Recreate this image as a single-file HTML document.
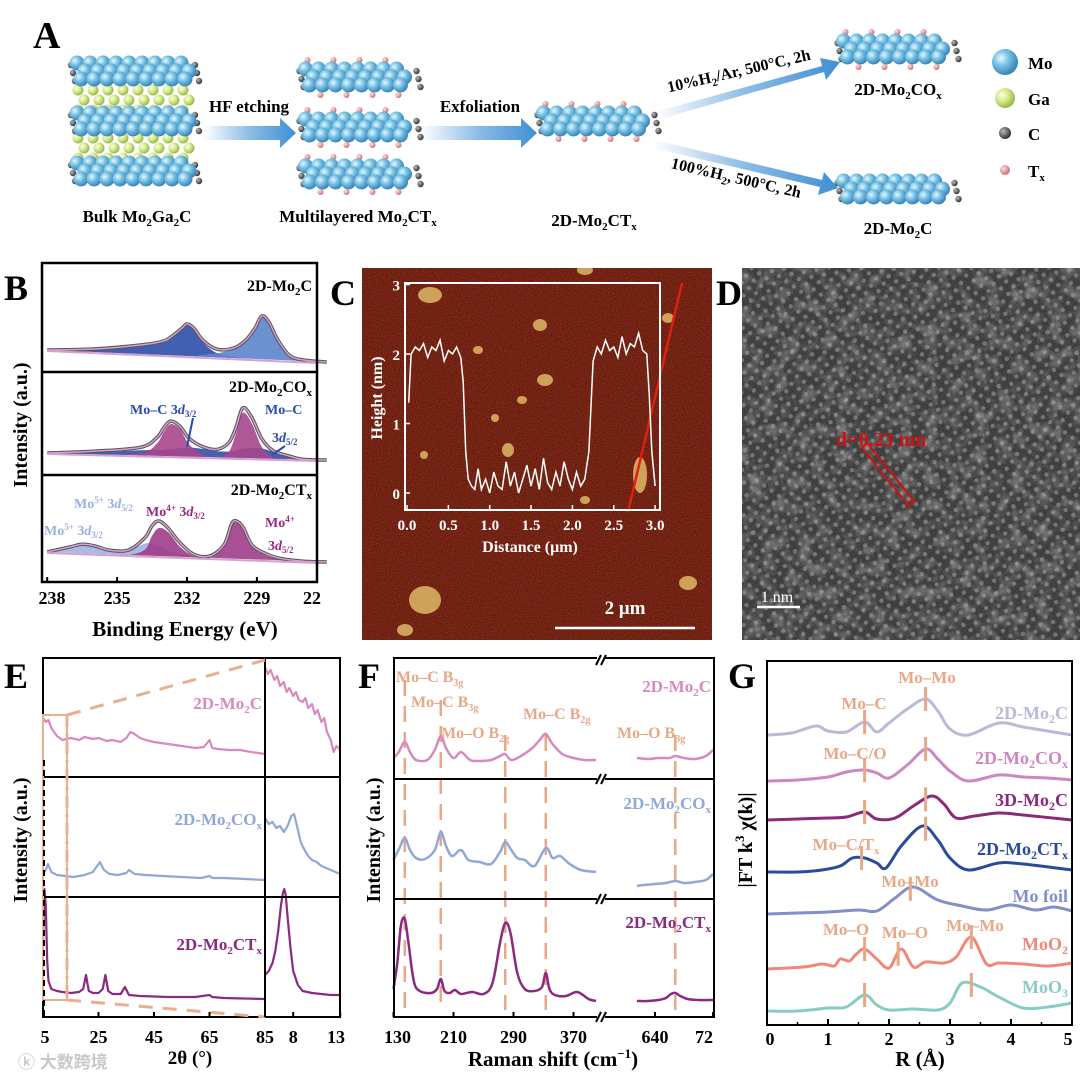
<!DOCTYPE html>
<html><head><meta charset="utf-8">
<style>
html,body{margin:0;padding:0;background:#fff;}
svg{display:block;font-family:"Liberation Serif",serif;font-weight:bold;}
</style></head>
<body>
<svg id="fig" width="1080" height="1077" viewBox="0 0 1080 1077" xmlns="http://www.w3.org/2000/svg">
<defs>
<radialGradient id="gBlue" cx="35%" cy="35%" r="65%"><stop offset="0" stop-color="#e8f8ff"/><stop offset=".45" stop-color="#79c3e6"/><stop offset="1" stop-color="#3a86b8"/></radialGradient>
<radialGradient id="gGreen" cx="35%" cy="35%" r="65%"><stop offset="0" stop-color="#fbffe0"/><stop offset=".5" stop-color="#d6ea8a"/><stop offset="1" stop-color="#9ab850"/></radialGradient>
<radialGradient id="gGray" cx="35%" cy="35%" r="65%"><stop offset="0" stop-color="#bbb"/><stop offset="1" stop-color="#333"/></radialGradient>
<radialGradient id="gPink" cx="35%" cy="35%" r="65%"><stop offset="0" stop-color="#ffe0e0"/><stop offset="1" stop-color="#d07070"/></radialGradient>
<linearGradient id="gArrow" x1="0" x2="1"><stop offset="0" stop-color="#3f8fd4" stop-opacity="0"/><stop offset=".5" stop-color="#3f8fd4" stop-opacity=".6"/><stop offset="1" stop-color="#3f8fd4"/></linearGradient>
<filter id="noiseC" x="0" y="0" width="100%" height="100%"><feTurbulence type="fractalNoise" baseFrequency="1.2" numOctaves="2" seed="3"/><feColorMatrix values="0 0 0 0 0.6  0 0 0 0 0.08  0 0 0 0 0.03  0 0 0 1.2 -0.35"/></filter>
<filter id="noiseD" x="0" y="0" width="100%" height="100%"><feTurbulence type="fractalNoise" baseFrequency="0.08" numOctaves="3" seed="5"/><feColorMatrix values="0 0 0 0 0.85  0 0 0 0 0.85  0 0 0 0 0.85  0 0 0 1.1 -0.45"/></filter>
<filter id="noiseD2" x="0" y="0" width="100%" height="100%"><feTurbulence type="fractalNoise" baseFrequency="0.7" numOctaves="1" seed="9"/><feColorMatrix values="0 0 0 0 0.1  0 0 0 0 0.1  0 0 0 0 0.1  0 0 0 1 -0.3"/></filter>
<pattern id="lattice" width="9" height="9" patternUnits="userSpaceOnUse" patternTransform="rotate(35)"><circle cx="4.5" cy="4.5" r="2.2" fill="#cfcfcf" opacity=".45"/></pattern>
<clipPath id="clipC"><rect x="362" y="268" width="350" height="372"/></clipPath>
<clipPath id="clipD"><rect x="742" y="268" width="338" height="372"/></clipPath>
</defs>

<!-- ========== Panel A ========== -->
<g id="panelA">
<text x="33" y="48" font-size="38">A</text>
<g id="structs"></g>
<polygon points="204,126 280,126 280,118 296,133 280,148 280,140 204,140" fill="url(#gArrow)"/>
<polygon points="421,126 521,126 521,118 537,133 521,148 521,140 421,140" fill="url(#gArrow)"/>
<polygon points="655,112 822,66 820,58 840,62 826,80 824,72 657,120" fill="url(#gArrow)"/>
<polygon points="655,140 822,180 824,172 838,188 818,195 820,187 653,148" fill="url(#gArrow)"/>
<text x="249" y="112" font-size="17" text-anchor="middle">HF etching</text>
<text x="480" y="112" font-size="17" text-anchor="middle">Exfoliation</text>
<text x="740" y="76" font-size="16" text-anchor="middle" transform="rotate(-13 740 76)">10%H<tspan font-size="11" dy="4">2</tspan><tspan dy="-4">/Ar, 500°C, 2h</tspan></text>
<text x="735" y="183" font-size="16" text-anchor="middle" transform="rotate(13 735 183)">100%H<tspan font-size="11" dy="4">2</tspan><tspan dy="-4">, 500°C, 2h</tspan></text>
<text x="137" y="222" font-size="17" text-anchor="middle">Bulk Mo<tspan font-size="11" dy="4">2</tspan><tspan dy="-4">Ga</tspan><tspan font-size="11" dy="4">2</tspan><tspan dy="-4">C</tspan></text>
<text x="358" y="222" font-size="17" text-anchor="middle">Multilayered Mo<tspan font-size="11" dy="4">2</tspan><tspan dy="-4">CT</tspan><tspan font-size="11" dy="4">x</tspan></text>
<text x="594" y="226" font-size="17" text-anchor="middle">2D-Mo<tspan font-size="11" dy="4">2</tspan><tspan dy="-4">CT</tspan><tspan font-size="11" dy="4">x</tspan></text>
<text x="898" y="95" font-size="17" text-anchor="middle">2D-Mo<tspan font-size="11" dy="4">2</tspan><tspan dy="-4">CO</tspan><tspan font-size="11" dy="4">x</tspan></text>
<text x="898" y="234" font-size="17" text-anchor="middle">2D-Mo<tspan font-size="11" dy="4">2</tspan><tspan dy="-4">C</tspan></text>
<g>
<circle cx="1005" cy="62" r="13" fill="url(#gBlue)"/><text x="1028" y="69" font-size="17">Mo</text>
<circle cx="1005" cy="98" r="10" fill="url(#gGreen)"/><text x="1028" y="105" font-size="17">Ga</text>
<circle cx="1005" cy="133" r="6" fill="url(#gGray)"/><text x="1028" y="140" font-size="17">C</text>
<circle cx="1005" cy="170" r="5" fill="url(#gPink)"/><text x="1028" y="177" font-size="17">T<tspan font-size="11" dy="4">x</tspan></text>
</g>
</g>

<!-- ========== Panel B ========== -->
<g id="panelB">
<text x="4" y="300" font-size="36">B</text>
<g id="bCurves"></g>
<rect x="42" y="263" width="275" height="319" fill="none" stroke="#000" stroke-width="2.5"/>
<line x1="42" y1="372" x2="317" y2="372" stroke="#000" stroke-width="2.5"/>
<line x1="42" y1="475" x2="317" y2="475" stroke="#000" stroke-width="2.5"/>
<g id="bTicks"></g>
<text x="185" y="636" font-size="21" text-anchor="middle">Binding Energy (eV)</text>
<text x="27" y="425" font-size="20" text-anchor="middle" transform="rotate(-90 27 425)">Intensity (a.u.)</text>
<text x="312" y="291" font-size="16" text-anchor="end">2D-Mo<tspan font-size="11" dy="4">2</tspan><tspan dy="-4">C</tspan></text>
<text x="312" y="392" font-size="16" text-anchor="end">2D-Mo<tspan font-size="11" dy="4">2</tspan><tspan dy="-4">CO</tspan><tspan font-size="11" dy="4">x</tspan></text>
<text x="130" y="414" font-size="14" fill="#2a4ab0">Mo–C 3<tspan font-style="italic">d</tspan><tspan font-size="9" dy="3">3/2</tspan></text>
<text x="265" y="414" font-size="14" fill="#2a4ab0">Mo–C</text>
<text x="272" y="442" font-size="14" fill="#2a4ab0">3<tspan font-style="italic">d</tspan><tspan font-size="9" dy="3">5/2</tspan></text>
<line x1="193" y1="418" x2="187" y2="447" stroke="#2a4ab0" stroke-width="2"/>
<line x1="285" y1="446" x2="272" y2="455" stroke="#2a4ab0" stroke-width="2"/>
<text x="312" y="495" font-size="16" text-anchor="end">2D-Mo<tspan font-size="11" dy="4">2</tspan><tspan dy="-4">CT</tspan><tspan font-size="11" dy="4">x</tspan></text>
<text x="146" y="516" font-size="14" fill="#9a2a80">Mo<tspan font-size="9" dy="-5">4+</tspan><tspan dy="5"> 3</tspan><tspan font-style="italic">d</tspan><tspan font-size="9" dy="3">3/2</tspan></text>
<text x="74" y="508" font-size="14" fill="#9ab0e0">Mo<tspan font-size="9" dy="-5">5+</tspan><tspan dy="5"> 3</tspan><tspan font-style="italic">d</tspan><tspan font-size="9" dy="3">5/2</tspan></text>
<text x="44" y="535" font-size="14" fill="#9ab0e0">Mo<tspan font-size="9" dy="-5">5+</tspan><tspan dy="5"> 3</tspan><tspan font-style="italic">d</tspan><tspan font-size="9" dy="3">3/2</tspan></text>
<text x="265" y="527" font-size="14" fill="#9a2a80">Mo<tspan font-size="9" dy="-5">4+</tspan></text>
<text x="268" y="550" font-size="14" fill="#9a2a80">3<tspan font-style="italic">d</tspan><tspan font-size="9" dy="3">5/2</tspan></text>
</g>

<!-- ========== Panel C ========== -->
<g id="panelC">
<text x="330" y="305" font-size="36">C</text>
<g clip-path="url(#clipC)">
<rect x="362" y="268" width="350" height="372" fill="#54140a"/>
<rect x="362" y="268" width="350" height="372" filter="url(#noiseC)"/>
<g fill="#d8b060" opacity=".9">
<ellipse cx="430" cy="295" rx="12" ry="8"/><ellipse cx="585" cy="270" rx="8" ry="5"/><ellipse cx="540" cy="325" rx="7" ry="6"/>
<ellipse cx="478" cy="350" rx="5" ry="4"/><ellipse cx="545" cy="380" rx="8" ry="6"/><ellipse cx="522" cy="400" rx="5" ry="4"/>
<ellipse cx="495" cy="418" rx="4" ry="4"/><ellipse cx="508" cy="450" rx="6" ry="7"/><ellipse cx="424" cy="455" rx="4" ry="4"/>
<ellipse cx="640" cy="475" rx="7" ry="18"/><ellipse cx="585" cy="500" rx="5" ry="4"/><ellipse cx="425" cy="600" rx="16" ry="14"/>
<ellipse cx="405" cy="630" rx="8" ry="6"/><ellipse cx="688" cy="583" rx="9" ry="7"/><ellipse cx="668" cy="318" rx="6" ry="5"/>
</g>
<line x1="682" y1="283" x2="628" y2="512" stroke="#e02010" stroke-width="2.5"/>
<rect x="405" y="283" width="255" height="227" fill="none" stroke="#fff" stroke-width="2"/>
<g id="cPlot"></g>
<text x="530" y="552" font-size="16" fill="#fff" text-anchor="middle">Distance (μm)</text>
<text x="382" y="398" font-size="16" fill="#fff" text-anchor="middle" transform="rotate(-90 382 398)">Height (nm)</text>
<line x1="555" y1="628" x2="695" y2="628" stroke="#fff" stroke-width="2.5"/>
<text x="625" y="614" font-size="19" fill="#fff" text-anchor="middle">2 μm</text>
</g>
</g>

<!-- ========== Panel D ========== -->
<g id="panelD">
<text x="716" y="305" font-size="36">D</text>
<g clip-path="url(#clipD)">
<rect x="742" y="268" width="338" height="372" fill="#3a3a3a"/>
<rect x="742" y="268" width="338" height="372" filter="url(#noiseD)" opacity=".85"/>
<rect x="742" y="268" width="338" height="372" fill="url(#lattice)"/>
<rect x="742" y="268" width="338" height="372" filter="url(#noiseD2)"/>
<text x="836" y="446" font-size="20" fill="#d01010">d=0.23 nm</text>
<polygon points="862,448 867,443 914,501 909,506" fill="none" stroke="#d01010" stroke-width="2"/>
<line x1="757" y1="607" x2="800" y2="607" stroke="#fff" stroke-width="2.5"/>
<text x="777" y="602" font-size="16" fill="#fff" text-anchor="middle" font-weight="normal">1 nm</text>
</g>
</g>

<!-- ========== Panel E ========== -->
<g id="panelE">
<text x="4" y="688" font-size="36">E</text>
<g id="eCurves"></g>
<rect x="43" y="658" width="297" height="359" fill="none" stroke="#000" stroke-width="2"/>
<line x1="43" y1="777" x2="340" y2="777" stroke="#000" stroke-width="2"/>
<line x1="43" y1="897" x2="340" y2="897" stroke="#000" stroke-width="2"/>
<line x1="265" y1="658" x2="265" y2="1017" stroke="#000" stroke-width="2"/>
<g stroke="#e8b090" stroke-width="3" fill="none">
<rect x="43" y="715" width="24" height="285" stroke-width="2"/>
<line x1="67" y1="715" x2="265" y2="660" stroke-dasharray="14 10"/>
<line x1="67" y1="1000" x2="265" y2="1017" stroke-dasharray="14 10"/>
<line x1="67" y1="715" x2="67" y2="1000" stroke-dasharray="12 6 3 6"/>
</g>
<line x1="44" y1="760" x2="44" y2="1017" stroke="#000" stroke-width="2" stroke-dasharray="6 4"/>
<g id="eTicks"></g>
<text x="190" y="1064" font-size="19" text-anchor="middle">2θ (°)</text>
<text x="27" y="840" font-size="20" text-anchor="middle" transform="rotate(-90 27 840)">Intensity (a.u.)</text>
<text x="262" y="709" font-size="17" fill="#d88ac0" text-anchor="end">2D-Mo<tspan font-size="11" dy="4">2</tspan><tspan dy="-4">C</tspan></text>
<text x="262" y="825" font-size="17" fill="#90a8d8" text-anchor="end">2D-Mo<tspan font-size="11" dy="4">2</tspan><tspan dy="-4">CO</tspan><tspan font-size="11" dy="4">x</tspan></text>
<text x="262" y="950" font-size="17" fill="#8a2a80" text-anchor="end">2D-Mo<tspan font-size="11" dy="4">2</tspan><tspan dy="-4">CT</tspan><tspan font-size="11" dy="4">x</tspan></text>
<text x="18" y="1068" font-size="17" fill="#c8c8c8" font-family="'Liberation Sans','Noto Sans CJK SC',sans-serif">ⓚ 大数跨境</text>
</g>

<!-- ========== Panel F ========== -->
<g id="panelF">
<text x="358" y="688" font-size="36">F</text>
<g id="fDashes"></g>
<g id="fCurves"></g>
<rect x="394" y="658" width="320" height="359" fill="none" stroke="#000" stroke-width="2"/>
<line x1="394" y1="779" x2="714" y2="779" stroke="#000" stroke-width="2"/>
<line x1="394" y1="899" x2="714" y2="899" stroke="#000" stroke-width="2"/>
<g id="fBreaks"></g>
<g id="fTicks"></g>
<text x="553" y="1066" font-size="21" text-anchor="middle">Raman shift (cm<tspan font-size="13" dy="-8">−1</tspan><tspan dy="8">)</tspan></text>
<text x="380" y="840" font-size="20" text-anchor="middle" transform="rotate(-90 380 840)">Intensity (a.u.)</text>
<g fill="#e8a888" font-size="16">
<text x="396" y="682">Mo–C B<tspan font-size="10" dy="4">3g</tspan></text>
<text x="411" y="707">Mo–C B<tspan font-size="10" dy="4">3g</tspan></text>
<text x="441" y="738">Mo–O B<tspan font-size="10" dy="4">2g</tspan></text>
<text x="523" y="719">Mo–C B<tspan font-size="10" dy="4">2g</tspan></text>
<text x="617" y="738">Mo–O B<tspan font-size="10" dy="4">3g</tspan></text>
</g>
<text x="711" y="692" font-size="17" fill="#d88ac0" text-anchor="end">2D-Mo<tspan font-size="11" dy="4">2</tspan><tspan dy="-4">C</tspan></text>
<text x="711" y="809" font-size="17" fill="#90a8d8" text-anchor="end">2D-Mo<tspan font-size="11" dy="4">2</tspan><tspan dy="-4">CO</tspan><tspan font-size="11" dy="4">x</tspan></text>
<text x="711" y="928" font-size="17" fill="#8a2a80" text-anchor="end">2D-Mo<tspan font-size="11" dy="4">2</tspan><tspan dy="-4">CT</tspan><tspan font-size="11" dy="4">x</tspan></text>
</g>

<!-- ========== Panel G ========== -->
<g id="panelG">
<text x="728" y="688" font-size="36">G</text>
<g id="gCurves"></g>
<rect x="767" y="661" width="305" height="364" fill="none" stroke="#000" stroke-width="2"/>
<g id="gTicks"></g>
<text x="920" y="1066" font-size="21" text-anchor="middle">R (Å)</text>
<text x="752" y="840" font-size="20" text-anchor="middle" transform="rotate(-90 752 840)">|FT k<tspan font-size="13" dy="-8">3</tspan><tspan dy="8"> χ(k)|</tspan></text>
<g fill="#e8a888" font-size="17" text-anchor="middle">
<text x="927" y="683">Mo–Mo</text>
<text x="864" y="709">Mo–C</text>
<text x="855" y="759">Mo–C/O</text>
<text x="846" y="850">Mo–C/T<tspan font-size="11" dy="4">x</tspan></text>
<text x="910" y="887">Mo–Mo</text>
<text x="846" y="935">Mo–O</text>
<text x="905" y="938">Mo–O</text>
<text x="975" y="931">Mo–Mo</text>
</g>
<g font-size="18" text-anchor="end">
<text x="1068" y="719" fill="#b8bad8">2D-Mo<tspan font-size="12" dy="4">2</tspan><tspan dy="-4">C</tspan></text>
<text x="1068" y="764" fill="#cc88c0">2D-Mo<tspan font-size="12" dy="4">2</tspan><tspan dy="-4">CO</tspan><tspan font-size="12" dy="4">x</tspan></text>
<text x="1068" y="806" fill="#8a2a7a">3D-Mo<tspan font-size="12" dy="4">2</tspan><tspan dy="-4">C</tspan></text>
<text x="1068" y="855" fill="#2a4a9a">2D-Mo<tspan font-size="12" dy="4">2</tspan><tspan dy="-4">CT</tspan><tspan font-size="12" dy="4">x</tspan></text>
<text x="1068" y="902" fill="#8090c8">Mo foil</text>
<text x="1068" y="950" fill="#f08878">MoO<tspan font-size="12" dy="4">2</tspan></text>
<text x="1068" y="993" fill="#88ccc4">MoO<tspan font-size="12" dy="4">3</tspan></text>
</g>
</g>
</svg>

<script>
// ---------------- Panel B data (binding energy eV, intensity a.u.) ----------------
const b1E=[238,236,234,233,232.6,232.2,232.0,231.7,231.3,230.7,230.0,229.5,229.1,228.8,228.5,228.1,227.6,227,226];
const b1Env=[0,3,9,14,20,28,32,28,16,8,10,18,30,43,38,20,5,1,0];
const b1CompA=[0,3,9,14,20,28,32,28,14,4,1,0,0,0,0,0,0,0,0];
const b1CompB=[0,0,0,0,0,0,0,0,2,4,9,17,29,42,37,19,4,0,0];
const b2E=[238,236,234,233.3,233,232.7,232.3,231.9,231.3,230.7,230.2,229.9,229.6,229.2,228.8,228.3,227.6,227,226];
const b2Env=[0,3,8,18,28,35,30,18,10,8,15,30,50,40,20,8,3,0,0];
const b2CompPink=[0,0,2,12,24,32,27,12,2,0,6,24,45,34,12,1,0,0,0];
const b2CompBlue=[0,2,5,6,6,7,8,9,8,6,6,7,9,10,10,7,3,0,0];
const b3E=[238,237,236.5,236,235.3,234.5,233.8,233.5,233.2,232.8,232.3,231.7,231.0,230.4,230.1,229.9,229.6,229.2,228.6,228,227,226];
const b3Env=[0,6,9,8,4,5,18,30,35,28,14,3,2,14,34,38,32,14,6,2,0,0];
const b3CompPink=[0,0,0,0,0,0,6,20,28,24,10,1,0,12,32,36,30,12,4,1,0,0];
const b3CompLight=[0,6,9,8,4,5,12,12,10,6,3,1,0,0,0,0,0,0,0,0,0,0];
const bTickVals=[238,235,232,229,226];
const bTickLabels=["238","235","232","229","22"];

// ---------------- Panel C data (distance µm, height nm) ----------------
const cDist=[0.02,0.05,0.1,0.15,0.2,0.25,0.3,0.35,0.4,0.45,0.5,0.55,0.6,0.65,0.68,0.71,0.74,0.78,0.82,0.86,0.9,0.95,1.0,1.05,1.1,1.15,1.2,1.25,1.3,1.35,1.4,1.45,1.5,1.55,1.6,1.65,1.7,1.75,1.8,1.85,1.9,1.95,2.0,2.05,2.1,2.15,2.2,2.25,2.3,2.35,2.4,2.45,2.5,2.55,2.6,2.65,2.7,2.75,2.8,2.85,2.9,2.93,2.96,3.0];
const cHeight=[1.3,2.0,2.1,2.05,2.15,1.95,2.1,2.05,2.2,1.9,2.05,2.0,2.1,1.95,1.6,0.6,0.2,0.1,0.05,0.35,0.05,0.2,0.0,0.3,0.1,0.05,0.45,0.1,0.3,0.0,0.2,0.4,0.1,0.35,0.05,0.5,0.15,0.05,0.3,0.1,0.45,0.2,0.05,0.3,0.1,0.2,0.6,1.9,2.1,2.0,2.2,2.05,2.1,1.95,2.25,2.0,2.15,2.1,2.3,2.05,2.0,1.4,0.6,0.1];
const cXTicks=[0.0,0.5,1.0,1.5,2.0,2.5,3.0];
const cYTicks=[0,1,2,3];

// ---------------- Panel E data (2θ degrees, intensity) ----------------
const eL1x=[5,6,7,8,9,10,12,15,18,20,23,25,28,30,33,35,36.5,38,40,42,45,50,55,60,63,65,66,68,72,76,80,85];
const eL1y=[62,58,60,52,48,44,40,42,40,43,41,42,39,40,38,42,48,46,42,40,38,36,34,32,33,40,32,31,30,30,28,26];
const eR1x=[5,5.3,5.6,6,6.3,6.6,7,7.3,7.6,8,8.3,8.6,9,9.3,9.6,10,10.3,10.6,11,11.3,11.6,12,12.3,12.6,13];
const eR1y=[95,88,92,82,86,76,80,70,74,66,70,62,60,64,54,58,48,52,40,44,30,22,10,16,12];
const eL2x=[5,6,6.8,8,10,13,16,20,23,25.5,27,29,32,35,36,38,42,48,55,62,65,66,70,78,85];
const eL2y=[12,16,22,14,11,10,9,11,14,24,16,12,11,13,16,12,11,10,9,8,10,8,8,7,6];
const eR2x=[5,5.4,5.8,6.2,6.6,7,7.4,7.8,8.1,8.4,8.8,9.2,9.6,10,10.5,11,11.5,12,12.5,13];
const eR2y=[68,62,64,58,60,54,60,70,72,60,44,36,30,26,24,20,18,16,14,12];
const eL3x=[5,5.5,6,6.5,7,8,10,12,15,18,19.5,20.5,21.5,23,25,26.5,27.5,28.5,30,33,34.5,36,40,50,60,65,66,70,85];
const eL3y=[60,112,95,40,20,12,10,9,8,9,12,26,10,8,8,12,26,10,7,7,14,6,5,4,4,6,4,3,2];
const eR3x=[5,5.4,5.8,6.1,6.4,6.7,6.9,7.05,7.2,7.4,7.7,8.0,8.5,9,10,11,12,13];
const eR3y=[38,42,50,62,82,108,120,124,118,96,66,42,28,22,20,19,18,18];
const eTickVals=[5,25,45,65,85];
const eRTickVals=[8,13];

// ---------------- Panel F data (Raman shift cm^-1, intensity) ----------------
const fL1x=[130,137,145,152,160,175,185,193,200,210,220,232,245,260,272,279,287,300,315,325,333,342,355,370,385,400];
const fL1y=[12,18,28,18,10,10,20,34,22,12,18,10,9,10,14,16,10,14,22,30,36,26,16,12,10,10];
const fR1x=[615,630,645,660,668,680,695,710,720];
const fR1y=[12,11,12,12,14,12,11,14,20];
const fL2x=[130,138,145,152,160,172,185,193,200,208,220,230,245,260,272,279,287,295,305,318,333,342,352,365,380,400];
const fL2y=[18,30,40,28,20,19,28,46,32,22,28,18,16,14,26,36,28,20,18,12,30,20,22,14,8,6];
const fR2x=[615,625,640,655,668,680,695,710,720];
const fR2y=[0,1,2,3,5,3,4,6,12];
const fL3x=[130,135,140,145,150,157,165,180,188,193,198,205,212,220,235,250,262,272,279,286,295,305,318,328,333,338,345,360,375,390,400];
const fL3y=[14,40,78,84,60,22,12,10,14,24,12,10,13,9,11,9,20,60,80,70,30,14,12,16,30,14,8,7,11,4,2];
const fR3x=[615,630,645,655,662,668,675,685,700,720];
const fR3y=[2,2,3,5,9,10,7,4,3,3];
const fLTickVals=[130,210,290,370];
const fRTickVals=[640,720];
const fRTickLabels=["640","72"];
const fPeakPos=[145,193,279,333,668];

// ---------------- Panel G data (R Å, |FT| a.u.) ----------------
const gR1=[0,0.4,0.8,1.0,1.3,1.6,1.8,2.0,2.3,2.6,2.8,3.0,3.3,3.8,4.2,4.6,5.0];
const gV1=[0,2,9,4,3,13,3,12,26,36,24,6,0,12,8,4,0];
const gR2=[0,0.5,1.0,1.3,1.6,1.8,2.0,2.3,2.6,2.8,3.0,3.3,3.8,4.2,4.6,5.0];
const gV2=[0,1,4,9,11,8,3,16,32,22,10,0,6,4,3,1];
const gR3=[0,0.5,1.0,1.3,1.6,1.8,2.1,2.4,2.7,2.9,3.1,3.4,3.8,4.2,5.0];
const gV3=[0,1,2,3,8,1,2,14,24,16,2,4,7,5,0];
const gR4=[0,0.5,0.9,1.2,1.4,1.6,1.8,1.95,2.2,2.55,2.8,3.0,3.3,3.8,4.2,5.0];
const gV4=[0,0,2,6,14,14,9,4,26,46,32,14,2,9,8,2];
const gR5=[0,0.5,1.0,1.5,1.8,2.1,2.4,2.8,3.2,3.6,4.0,4.4,4.7,5.0];
const gV5=[0,1,2,4,3,16,27,14,8,4,9,4,7,3];
const gR6=[0,0.6,0.9,1.1,1.2,1.35,1.45,1.6,1.8,2.0,2.2,2.4,2.6,2.9,3.1,3.35,3.6,3.8,4.2,4.6,5.0];
const gV6=[0,2,5,3,10,8,14,20,10,1,20,2,7,6,12,32,5,6,5,3,6];
const gR7=[0,0.5,1.0,1.3,1.6,1.8,2.0,2.4,2.8,3.0,3.2,3.5,3.8,4.2,4.6,5.0];
const gV7=[0,0,3,4,16,6,1,2,1,8,28,24,14,3,4,8];
const gTickVals=[0,1,2,3,4,5];
const gMarkR=[1.6,2.6,2.35,2.15,3.35];

const NS="http://www.w3.org/2000/svg";
function mk(tag,attrs,parent){const e=document.createElementNS(NS,tag);for(const k in attrs)e.setAttribute(k,attrs[k]);parent.appendChild(e);return e;}
function smooth(pts){
  let d="M"+pts[0][0].toFixed(1)+","+pts[0][1].toFixed(1);
  for(let i=0;i<pts.length-1;i++){
    const p0=pts[Math.max(0,i-1)],p1=pts[i],p2=pts[i+1],p3=pts[Math.min(pts.length-1,i+2)];
    const c1=[p1[0]+(p2[0]-p0[0])/6,p1[1]+(p2[1]-p0[1])/6],c2=[p2[0]-(p3[0]-p1[0])/6,p2[1]-(p3[1]-p1[1])/6];
    d+=` C${c1[0].toFixed(1)},${c1[1].toFixed(1)} ${c2[0].toFixed(1)},${c2[1].toFixed(1)} ${p2[0].toFixed(1)},${p2[1].toFixed(1)}`;
  }
  return d;
}
function jag(pts){return "M"+pts.map(p=>p[0].toFixed(1)+","+p[1].toFixed(1)).join(" L");}

// ---------------- Panel A structures ----------------
(function(){
  const g=document.getElementById('structs');
  function slab(cx,cy,w,opts){
    const grp=mk('g',{},g);
    
    
    const n=Math.round(w/13);
    for(let r=0;r<3;r++){
      const y=cy-9+r*8;const off=(r%2)*6-6+r*2;
      if(opts.tx&&r===0){for(let i=0;i<n;i+=2)mk('circle',{cx:cx-w/2+off+i*13+8,cy:y-9,r:3,fill:'url(#gPink)'},grp);}
      mk('circle',{cx:cx-w/2-6+r*2,cy:y+2,r:3.2,fill:'url(#gGray)'},grp);
      mk('circle',{cx:cx+w/2+6+r*2,cy:y+2,r:3.2,fill:'url(#gGray)'},grp);
      for(let i=0;i<n;i++)mk('circle',{cx:cx-w/2+off+i*13+6,cy:y,r:7.5,fill:'url(#gBlue)'},grp);
      if(opts.tx&&r===2){for(let i=1;i<n;i+=2)mk('circle',{cx:cx-w/2+off+i*13+4,cy:y+10,r:3,fill:'url(#gPink)'},grp);}
    }
  }
  function gaRows(cx,cy,w){
    const grp=mk('g',{},g);
    
    
    for(let r=0;r<3;r++)for(let i=0;i<8;i++)mk('circle',{cx:cx-w/2+i*15+(r%2)*6,cy:cy-10+r*10,r:5.5,fill:'url(#gGreen)'},grp);
  }
  gaRows(133,100,110);gaRows(133,148,110);
  slab(133,72,112,{name:'bulk-mo-layer-top'});slab(133,122,112,{name:'bulk-mo-layer-mid'});slab(133,172,112,{name:'bulk-mo-layer-bottom'});
  slab(358,78,105,{tx:1,name:'multilayer-slab-1'});slab(358,128,105,{tx:1,name:'multilayer-slab-2'});slab(358,175,105,{tx:1,name:'multilayer-slab-3'});
  slab(596,122,105,{tx:1,name:'mo2ctx-slab'});
  slab(896,50,105,{tx:1,name:'mo2cox-slab'});
  slab(896,190,105,{name:'mo2c-slab'});
})();

// ---------------- Panel B ----------------
(function(){
  const g=document.getElementById('bCurves');
  const bx=e=>187+(232-e)*23.3;
  function box(E,env,comps,colors,baseL,baseR,name){
    const base=e=>baseL+(baseR-baseL)*(238-e)/12;
    comps.forEach((c,ci)=>{
      const pts=E.map((e,i)=>[bx(e),base(e)-c[i]]);
      const back=E.slice().reverse().map(e=>[bx(e),base(e)]);
      const p=mk('path',{d:smooth(pts)+" "+back.map(q=>"L"+q[0].toFixed(1)+","+q[1].toFixed(1)).join(" ")+"Z",fill:colors[ci],opacity:.9},g);
      
      
    });
    const pts=E.map((e,i)=>[bx(e),base(e)-env[i]]);
    const l=mk('path',{d:smooth(pts),fill:'none',stroke:'#555',"stroke-width":3.5},g);
    
    
    mk('path',{d:smooth(pts),fill:'none',stroke:'#d8a0d0',"stroke-width":1.5},g);
    const bl=mk('line',{x1:bx(238),y1:base(238)+1,x2:317,y2:baseR+1,stroke:'#d8a0d0',"stroke-width":2},g);
    
    
  }
  box(b1E,b1Env,[b1CompA,b1CompB],['#2d4fa8','#5c85cc'],350,362,'xps-mo2c');
  box(b2E,b2Env,[b2CompBlue,b2CompPink],['#3050a8','#a8468e'],453,460,'xps-mo2cox');
  box(b3E,b3Env,[b3CompLight,b3CompPink],['#9db4e2','#a03c8a'],552,562,'xps-mo2ctx');
  const t=document.getElementById('bTicks');
  bTickVals.forEach((v,i)=>{
    const x=Math.min(bx(v),317);
    mk('line',{x1:x,y1:582,x2:x,y2:577,stroke:'#000',"stroke-width":2},t);
    const tx=mk('text',{x:i===0?52:(i===4?312:x),y:604,"font-size":18,"text-anchor":"middle"},t);
    tx.textContent=bTickLabels[i];
    
    
  });
})();

// ---------------- Panel C ----------------
(function(){
  const g=document.getElementById('cPlot');
  const cx=d=>407+d*82.7, cy=h=>493-h*69.5;
  const pts=cDist.map((d,i)=>[cx(d),cy(cHeight[i])]);
  const p=mk('path',{d:jag(pts),fill:'none',stroke:'#fff',"stroke-width":1.5},g);
  
  
  cXTicks.forEach(v=>{
    mk('line',{x1:cx(v),y1:510,x2:cx(v),y2:505,stroke:'#fff',"stroke-width":1.5},g);
    const t=mk('text',{x:cx(v),y:530,"font-size":15,fill:'#fff',"text-anchor":"middle"},g);
    t.textContent=v.toFixed(1);
    
    
  });
  cYTicks.forEach(v=>{
    mk('line',{x1:405,y1:cy(v),x2:410,y2:cy(v),stroke:'#fff',"stroke-width":1.5},g);
    const t=mk('text',{x:400,y:cy(v)+6,"font-size":15,fill:'#fff',"text-anchor":"end"},g);
    t.textContent=v;
    
    
  });
})();

// ---------------- Panel E ----------------
(function(){
  const g=document.getElementById('eCurves');
  const exL=v=>43+(v-5)*2.775, exR=v=>265+(v-5)*9.4;
  function draw(xs,ys,fx,base,color,name){
    const pts=xs.map((v,i)=>[fx(v),base-ys[i]]);
    const p=mk('path',{d:jag(pts),fill:'none',stroke:color,"stroke-width":2.2,"stroke-linejoin":"round"},g);
    
    
  }
  draw(eL1x,eL1y,exL,780,'#d88ac0','xrd-mo2c-curve');
  draw(eR1x,eR1y,exR,762,'#d88ac0','xrd-mo2c-zoom-curve');
  draw(eL2x,eL2y,exL,886,'#90a8d8','xrd-mo2cox-curve');
  draw(eR2x,eR2y,exR,886,'#90a8d8','xrd-mo2cox-zoom-curve');
  draw(eL3x,eL3y,exL,1001,'#8a2a80','xrd-mo2ctx-curve');
  draw(eR3x,eR3y,exR,1013,'#8a2a80','xrd-mo2ctx-zoom-curve');
  const t=document.getElementById('eTicks');
  eTickVals.forEach(v=>{
    mk('line',{x1:exL(v),y1:1017,x2:exL(v),y2:1012,stroke:'#000',"stroke-width":2},t);
    const tx=mk('text',{x:exL(v)+(v===5?2:0),y:1043,"font-size":18,"text-anchor":"middle"},t);
    tx.textContent=v;
    
    
  });
  eRTickVals.forEach(v=>{
    mk('line',{x1:exR(v),y1:1017,x2:exR(v),y2:1012,stroke:'#000',"stroke-width":2},t);
    const tx=mk('text',{x:Math.min(exR(v),336),y:1043,"font-size":18,"text-anchor":"middle"},t);
    tx.textContent=v;
    
    
  });
})();

// ---------------- Panel F ----------------
(function(){
  const g=document.getElementById('fCurves');
  const fx=v=>v<=500?393.5+(v-130)*0.75:655+(v-640)*0.725;
  function draw(xs,ys,base,color,name){
    const pts=xs.map((v,i)=>[fx(v),base-ys[i]]);
    const p=mk('path',{d:smooth(pts),fill:'none',stroke:color,"stroke-width":2.5,"stroke-linejoin":"round"},g);
    
    
  }
  draw(fL1x,fL1y,770,'#d88ac0','raman-mo2c-curve');draw(fR1x,fR1y,770,'#d88ac0','raman-mo2c-curve-high');
  draw(fL2x,fL2y,878,'#90a8d8','raman-mo2cox-curve');draw(fR2x,fR2y,886,'#90a8d8','raman-mo2cox-curve-high');
  draw(fL3x,fL3y,1003,'#8a2a80','raman-mo2ctx-curve');draw(fR3x,fR3y,1003,'#8a2a80','raman-mo2ctx-curve-high');
  const dsh=document.getElementById('fDashes');
  fPeakPos.forEach(v=>{
    const l=mk('line',{x1:fx(v),y1:v===193?700:(v===145?680:735),x2:fx(v),y2:1010,stroke:'#e8a888',"stroke-width":2.5,"stroke-dasharray":"16 10"},dsh);
    
    
  });
  const br=document.getElementById('fBreaks');
  mk('rect',{x:597,y:656,width:8,height:363,fill:'#fff'},br);
  [660,779,899,1017].forEach(y=>{
    mk('line',{x1:596,y1:y+5,x2:601,y2:y-5,stroke:'#000',"stroke-width":2},br);
    mk('line',{x1:601,y1:y+5,x2:606,y2:y-5,stroke:'#000',"stroke-width":2},br);
  });
  const t=document.getElementById('fTicks');
  fLTickVals.forEach(v=>{
    mk('line',{x1:fx(v),y1:1017,x2:fx(v),y2:1012,stroke:'#000',"stroke-width":2},t);
    const tx=mk('text',{x:fx(v)+(v===130?4:0),y:1043,"font-size":18,"text-anchor":"middle"},t);
    tx.textContent=v;
    
    
  });
  fRTickVals.forEach((v,i)=>{
    mk('line',{x1:fx(v),y1:1017,x2:fx(v),y2:1012,stroke:'#000',"stroke-width":2},t);
    const tx=mk('text',{x:Math.min(fx(v),704),y:1043,"font-size":18,"text-anchor":"middle"},t);
    tx.textContent=fRTickLabels[i];
    
    
  });
})();

// ---------------- Panel G ----------------
(function(){
  const g=document.getElementById('gCurves');
  const gx=r=>767+r*61;
  const series=[[gR1,gV1,735,'#b8bad8','ft-2d-mo2c'],[gR2,gV2,781,'#cc88c0','ft-2d-mo2cox'],[gR3,gV3,820,'#8a2a7a','ft-3d-mo2c'],
    [gR4,gV4,872,'#2a4a9a','ft-2d-mo2ctx'],[gR5,gV5,914,'#8090c8','ft-mo-foil'],[gR6,gV6,969,'#f08878','ft-moo2'],[gR7,gV7,1011,'#88ccc4','ft-moo3']];
  function interp(R,V,r){for(let i=0;i<R.length-1;i++){if(r>=R[i]&&r<=R[i+1]){const t=(r-R[i])/(R[i+1]-R[i]);return V[i]+(V[i+1]-V[i])*t;}}return 0;}
  const marks=[[0,0],[0,1],[1,0],[1,1],[2,0],[2,1],[3,0],[3,1],[4,2],[5,0],[5,3],[5,4],[6,0],[6,4]];
  series.forEach(s=>{
    const pts=s[0].map((r,i)=>[gx(r),s[2]-s[1][i]]);
    const p=mk('path',{d:smooth(pts),fill:'none',stroke:s[3],"stroke-width":3,"stroke-linejoin":"round"},g);
    
    
  });
  marks.forEach(m=>{
    const s=series[m[0]];let r=gMarkR[m[1]];if(m[0]===3&&m[1]===0)r=1.55;
    const y=s[2]-interp(s[0],s[1],r);
    const l=mk('line',{x1:gx(r),y1:y-12,x2:gx(r),y2:y+12,stroke:'#e8a888',"stroke-width":3},g);
    
    
  });
  const t=document.getElementById('gTicks');
  gTickVals.forEach(v=>{
    mk('line',{x1:gx(v),y1:1025,x2:gx(v),y2:1019,stroke:'#000',"stroke-width":2},t);
    if(v<5)mk('line',{x1:gx(v+0.5),y1:1025,x2:gx(v+0.5),y2:1022,stroke:'#000',"stroke-width":1.5},t);
    const tx=mk('text',{x:Math.min(gx(v)+(v===0?3:0),1068),y:1045,"font-size":18,"text-anchor":"middle"},t);
    tx.textContent=v;
    
    
  });
})();
</script>
</body></html>
